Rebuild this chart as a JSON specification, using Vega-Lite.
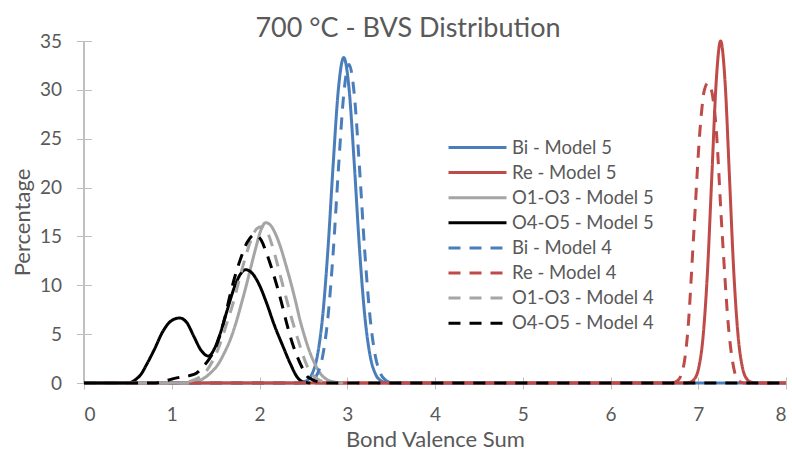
{
  "$schema": "https://vega.github.io/schema/vega-lite/v6.json",
  "width": 702,
  "height": 342,
  "autosize": {"type": "none"},
  "padding": {"left": 84, "top": 41, "right": 6, "bottom": 69},
  "background": "white",
  "title": {"text": "700 °C - BVS Distribution", "fontSize": 27, "fontWeight": "normal", "color": "#595959", "font": "Lato", "anchor": "middle", "dx": -27, "offset": -11},
  "config": {"view": {"stroke": null}, "font": "Lato"},
  "data": {"values": [
    {"s": "Bi - Model 5", "x": 0, "y": 0}, {"s": "Bi - Model 5", "x": 2.40, "y": 0}, {"s": "Bi - Model 5", "x": 2.48, "y": 0.06}, {"s": "Bi - Model 5", "x": 2.54, "y": 0.26}, {"s": "Bi - Model 5", "x": 2.60, "y": 0.95}, {"s": "Bi - Model 5", "x": 2.66, "y": 2.82}, {"s": "Bi - Model 5", "x": 2.72, "y": 6.86}, {"s": "Bi - Model 5", "x": 2.78, "y": 13.69}, {"s": "Bi - Model 5", "x": 2.84, "y": 22.44}, {"s": "Bi - Model 5", "x": 2.90, "y": 30.17}, {"s": "Bi - Model 5", "x": 2.96, "y": 33.3}, {"s": "Bi - Model 5", "x": 3.02, "y": 30.17}, {"s": "Bi - Model 5", "x": 3.08, "y": 22.44}, {"s": "Bi - Model 5", "x": 3.14, "y": 13.69}, {"s": "Bi - Model 5", "x": 3.20, "y": 6.86}, {"s": "Bi - Model 5", "x": 3.26, "y": 2.82}, {"s": "Bi - Model 5", "x": 3.32, "y": 0.95}, {"s": "Bi - Model 5", "x": 3.38, "y": 0.26}, {"s": "Bi - Model 5", "x": 3.44, "y": 0.06}, {"s": "Bi - Model 5", "x": 3.52, "y": 0}, {"s": "Bi - Model 5", "x": 8, "y": 0},

    {"s": "Re - Model 5", "x": 0, "y": 0}, {"s": "Re - Model 5", "x": 6.80, "y": 0}, {"s": "Re - Model 5", "x": 6.855, "y": 0.01}, {"s": "Re - Model 5", "x": 6.905, "y": 0.08}, {"s": "Re - Model 5", "x": 6.955, "y": 0.39}, {"s": "Re - Model 5", "x": 7.005, "y": 1.54}, {"s": "Re - Model 5", "x": 7.055, "y": 4.74}, {"s": "Re - Model 5", "x": 7.105, "y": 11.36}, {"s": "Re - Model 5", "x": 7.155, "y": 21.23}, {"s": "Re - Model 5", "x": 7.205, "y": 30.89}, {"s": "Re - Model 5", "x": 7.255, "y": 35}, {"s": "Re - Model 5", "x": 7.305, "y": 30.89}, {"s": "Re - Model 5", "x": 7.355, "y": 21.23}, {"s": "Re - Model 5", "x": 7.405, "y": 11.36}, {"s": "Re - Model 5", "x": 7.455, "y": 4.74}, {"s": "Re - Model 5", "x": 7.505, "y": 1.54}, {"s": "Re - Model 5", "x": 7.555, "y": 0.39}, {"s": "Re - Model 5", "x": 7.605, "y": 0.08}, {"s": "Re - Model 5", "x": 7.655, "y": 0.01}, {"s": "Re - Model 5", "x": 7.72, "y": 0}, {"s": "Re - Model 5", "x": 8, "y": 0},

    {"s": "O1-O3 - Model 5", "x": 0, "y": 0}, {"s": "O1-O3 - Model 5", "x": 1.15, "y": 0}, {"s": "O1-O3 - Model 5", "x": 1.25, "y": 0.1}, {"s": "O1-O3 - Model 5", "x": 1.35, "y": 0.4}, {"s": "O1-O3 - Model 5", "x": 1.45, "y": 1.1}, {"s": "O1-O3 - Model 5", "x": 1.52, "y": 1.8}, {"s": "O1-O3 - Model 5", "x": 1.60, "y": 3.1}, {"s": "O1-O3 - Model 5", "x": 1.67, "y": 4.5}, {"s": "O1-O3 - Model 5", "x": 1.73, "y": 6.1}, {"s": "O1-O3 - Model 5", "x": 1.79, "y": 8.0}, {"s": "O1-O3 - Model 5", "x": 1.85, "y": 10.0}, {"s": "O1-O3 - Model 5", "x": 1.90, "y": 11.8}, {"s": "O1-O3 - Model 5", "x": 1.96, "y": 13.9}, {"s": "O1-O3 - Model 5", "x": 2.01, "y": 15.5}, {"s": "O1-O3 - Model 5", "x": 2.07, "y": 16.4}, {"s": "O1-O3 - Model 5", "x": 2.12, "y": 16.2}, {"s": "O1-O3 - Model 5", "x": 2.18, "y": 15.3}, {"s": "O1-O3 - Model 5", "x": 2.24, "y": 13.9}, {"s": "O1-O3 - Model 5", "x": 2.30, "y": 12.1}, {"s": "O1-O3 - Model 5", "x": 2.35, "y": 10.5}, {"s": "O1-O3 - Model 5", "x": 2.41, "y": 8.4}, {"s": "O1-O3 - Model 5", "x": 2.46, "y": 6.5}, {"s": "O1-O3 - Model 5", "x": 2.52, "y": 4.6}, {"s": "O1-O3 - Model 5", "x": 2.58, "y": 3.0}, {"s": "O1-O3 - Model 5", "x": 2.64, "y": 1.8}, {"s": "O1-O3 - Model 5", "x": 2.70, "y": 0.9}, {"s": "O1-O3 - Model 5", "x": 2.77, "y": 0.35}, {"s": "O1-O3 - Model 5", "x": 2.85, "y": 0.1}, {"s": "O1-O3 - Model 5", "x": 2.95, "y": 0},

    {"s": "O4-O5 - Model 5", "x": 0, "y": 0}, {"s": "O4-O5 - Model 5", "x": 0.50, "y": 0}, {"s": "O4-O5 - Model 5", "x": 0.58, "y": 0.3}, {"s": "O4-O5 - Model 5", "x": 0.65, "y": 0.9}, {"s": "O4-O5 - Model 5", "x": 0.72, "y": 2.0}, {"s": "O4-O5 - Model 5", "x": 0.80, "y": 3.4}, {"s": "O4-O5 - Model 5", "x": 0.90, "y": 5.3}, {"s": "O4-O5 - Model 5", "x": 1.00, "y": 6.4}, {"s": "O4-O5 - Model 5", "x": 1.09, "y": 6.65}, {"s": "O4-O5 - Model 5", "x": 1.17, "y": 6.2}, {"s": "O4-O5 - Model 5", "x": 1.25, "y": 4.8}, {"s": "O4-O5 - Model 5", "x": 1.33, "y": 3.4}, {"s": "O4-O5 - Model 5", "x": 1.42, "y": 2.75}, {"s": "O4-O5 - Model 5", "x": 1.48, "y": 3.4}, {"s": "O4-O5 - Model 5", "x": 1.55, "y": 5.0}, {"s": "O4-O5 - Model 5", "x": 1.63, "y": 7.4}, {"s": "O4-O5 - Model 5", "x": 1.71, "y": 9.7}, {"s": "O4-O5 - Model 5", "x": 1.78, "y": 11.1}, {"s": "O4-O5 - Model 5", "x": 1.84, "y": 11.6}, {"s": "O4-O5 - Model 5", "x": 1.91, "y": 11.3}, {"s": "O4-O5 - Model 5", "x": 2.00, "y": 10.0}, {"s": "O4-O5 - Model 5", "x": 2.08, "y": 8.2}, {"s": "O4-O5 - Model 5", "x": 2.17, "y": 5.9}, {"s": "O4-O5 - Model 5", "x": 2.27, "y": 3.7}, {"s": "O4-O5 - Model 5", "x": 2.35, "y": 2.0}, {"s": "O4-O5 - Model 5", "x": 2.43, "y": 0.6}, {"s": "O4-O5 - Model 5", "x": 2.50, "y": 0.1}, {"s": "O4-O5 - Model 5", "x": 2.58, "y": 0},

    {"s": "Bi - Model 4", "x": 0, "y": 0}, {"s": "Bi - Model 4", "x": 2.46, "y": 0}, {"s": "Bi - Model 4", "x": 2.54, "y": 0.06}, {"s": "Bi - Model 4", "x": 2.60, "y": 0.26}, {"s": "Bi - Model 4", "x": 2.66, "y": 0.93}, {"s": "Bi - Model 4", "x": 2.72, "y": 2.76}, {"s": "Bi - Model 4", "x": 2.78, "y": 6.72}, {"s": "Bi - Model 4", "x": 2.84, "y": 13.40}, {"s": "Bi - Model 4", "x": 2.90, "y": 21.97}, {"s": "Bi - Model 4", "x": 2.96, "y": 29.54}, {"s": "Bi - Model 4", "x": 3.02, "y": 32.6}, {"s": "Bi - Model 4", "x": 3.08, "y": 29.54}, {"s": "Bi - Model 4", "x": 3.14, "y": 21.97}, {"s": "Bi - Model 4", "x": 3.20, "y": 13.40}, {"s": "Bi - Model 4", "x": 3.26, "y": 6.72}, {"s": "Bi - Model 4", "x": 3.32, "y": 2.76}, {"s": "Bi - Model 4", "x": 3.38, "y": 0.93}, {"s": "Bi - Model 4", "x": 3.44, "y": 0.26}, {"s": "Bi - Model 4", "x": 3.50, "y": 0.06}, {"s": "Bi - Model 4", "x": 3.58, "y": 0}, {"s": "Bi - Model 4", "x": 3.65, "y": 0},

    {"s": "Re - Model 4", "x": 0, "y": 0}, {"s": "Re - Model 4", "x": 6.70, "y": 0}, {"s": "Re - Model 4", "x": 6.76, "y": 0.2}, {"s": "Re - Model 4", "x": 6.82, "y": 1.2}, {"s": "Re - Model 4", "x": 6.88, "y": 5.2}, {"s": "Re - Model 4", "x": 6.95, "y": 15.5}, {"s": "Re - Model 4", "x": 7.02, "y": 25.9}, {"s": "Re - Model 4", "x": 7.07, "y": 30.0}, {"s": "Re - Model 4", "x": 7.11, "y": 30.7}, {"s": "Re - Model 4", "x": 7.15, "y": 30.0}, {"s": "Re - Model 4", "x": 7.20, "y": 26.5}, {"s": "Re - Model 4", "x": 7.27, "y": 15.7}, {"s": "Re - Model 4", "x": 7.35, "y": 5.2}, {"s": "Re - Model 4", "x": 7.41, "y": 1.3}, {"s": "Re - Model 4", "x": 7.46, "y": 0.2}, {"s": "Re - Model 4", "x": 7.52, "y": 0}, {"s": "Re - Model 4", "x": 8, "y": 0},

    {"s": "O1-O3 - Model 4", "x": 0, "y": 0}, {"s": "O1-O3 - Model 4", "x": 1.10, "y": 0}, {"s": "O1-O3 - Model 4", "x": 1.20, "y": 0.15}, {"s": "O1-O3 - Model 4", "x": 1.30, "y": 0.5}, {"s": "O1-O3 - Model 4", "x": 1.40, "y": 1.3}, {"s": "O1-O3 - Model 4", "x": 1.48, "y": 2.5}, {"s": "O1-O3 - Model 4", "x": 1.55, "y": 4.0}, {"s": "O1-O3 - Model 4", "x": 1.62, "y": 5.9}, {"s": "O1-O3 - Model 4", "x": 1.70, "y": 8.2}, {"s": "O1-O3 - Model 4", "x": 1.77, "y": 10.6}, {"s": "O1-O3 - Model 4", "x": 1.84, "y": 12.9}, {"s": "O1-O3 - Model 4", "x": 1.91, "y": 14.8}, {"s": "O1-O3 - Model 4", "x": 1.97, "y": 15.8}, {"s": "O1-O3 - Model 4", "x": 2.02, "y": 16.0}, {"s": "O1-O3 - Model 4", "x": 2.08, "y": 15.6}, {"s": "O1-O3 - Model 4", "x": 2.14, "y": 14.2}, {"s": "O1-O3 - Model 4", "x": 2.20, "y": 12.3}, {"s": "O1-O3 - Model 4", "x": 2.26, "y": 10.2}, {"s": "O1-O3 - Model 4", "x": 2.31, "y": 8.5}, {"s": "O1-O3 - Model 4", "x": 2.37, "y": 6.5}, {"s": "O1-O3 - Model 4", "x": 2.43, "y": 4.7}, {"s": "O1-O3 - Model 4", "x": 2.49, "y": 3.0}, {"s": "O1-O3 - Model 4", "x": 2.54, "y": 1.8}, {"s": "O1-O3 - Model 4", "x": 2.60, "y": 0.9}, {"s": "O1-O3 - Model 4", "x": 2.66, "y": 0.4}, {"s": "O1-O3 - Model 4", "x": 2.75, "y": 0.1}, {"s": "O1-O3 - Model 4", "x": 2.85, "y": 0}, {"s": "O1-O3 - Model 4", "x": 3.0, "y": 0},

    {"s": "O4-O5 - Model 4", "x": 0, "y": 0}, {"s": "O4-O5 - Model 4", "x": 0.80, "y": 0}, {"s": "O4-O5 - Model 4", "x": 0.90, "y": 0.15}, {"s": "O4-O5 - Model 4", "x": 1.00, "y": 0.4}, {"s": "O4-O5 - Model 4", "x": 1.10, "y": 0.6}, {"s": "O4-O5 - Model 4", "x": 1.20, "y": 0.75}, {"s": "O4-O5 - Model 4", "x": 1.28, "y": 1.0}, {"s": "O4-O5 - Model 4", "x": 1.36, "y": 1.7}, {"s": "O4-O5 - Model 4", "x": 1.43, "y": 2.5}, {"s": "O4-O5 - Model 4", "x": 1.49, "y": 3.4}, {"s": "O4-O5 - Model 4", "x": 1.55, "y": 4.9}, {"s": "O4-O5 - Model 4", "x": 1.60, "y": 6.5}, {"s": "O4-O5 - Model 4", "x": 1.67, "y": 9.2}, {"s": "O4-O5 - Model 4", "x": 1.72, "y": 10.9}, {"s": "O4-O5 - Model 4", "x": 1.78, "y": 12.6}, {"s": "O4-O5 - Model 4", "x": 1.86, "y": 14.4}, {"s": "O4-O5 - Model 4", "x": 1.95, "y": 15.2}, {"s": "O4-O5 - Model 4", "x": 2.02, "y": 14.6}, {"s": "O4-O5 - Model 4", "x": 2.08, "y": 13.3}, {"s": "O4-O5 - Model 4", "x": 2.14, "y": 11.7}, {"s": "O4-O5 - Model 4", "x": 2.20, "y": 9.9}, {"s": "O4-O5 - Model 4", "x": 2.26, "y": 7.9}, {"s": "O4-O5 - Model 4", "x": 2.31, "y": 6.1}, {"s": "O4-O5 - Model 4", "x": 2.37, "y": 4.2}, {"s": "O4-O5 - Model 4", "x": 2.43, "y": 2.7}, {"s": "O4-O5 - Model 4", "x": 2.49, "y": 1.5}, {"s": "O4-O5 - Model 4", "x": 2.54, "y": 0.7}, {"s": "O4-O5 - Model 4", "x": 2.60, "y": 0.35}, {"s": "O4-O5 - Model 4", "x": 2.68, "y": 0.1}, {"s": "O4-O5 - Model 4", "x": 2.80, "y": 0}, {"s": "O4-O5 - Model 4", "x": 8, "y": 0}
  ]},
  "layer": [
    {
      "mark": {"type": "rule", "color": "#BFBFBF", "strokeWidth": 1},
      "encoding": {"x": {"datum": 0, "type": "quantitative", "scale": {"domain": [0, 8], "nice": false}}}
    },
    {
      "mark": {"type": "line", "strokeWidth": 3, "interpolate": "monotone", "strokeCap": "butt", "strokeJoin": "round"},
      "encoding": {
        "x": {"field": "x", "type": "quantitative", "scale": {"domain": [0, 8], "nice": false},
          "axis": {"values": [0,1,2,3,4,5,6,7,8], "format": "d", "domain": false, "grid": false, "tickSize": 12, "offset": -6, "tickColor": "#BFBFBF",
            "labelFontSize": 19, "labelColor": "#595959", "labelPadding": 16, "labelFont": "Lato",
            "title": "Bond Valence Sum", "titleFontSize": 22, "titleFontWeight": "normal", "titleColor": "#595959", "titleFont": "Lato", "titlePadding": 5}},
        "y": {"field": "y", "type": "quantitative", "scale": {"domain": [0, 35], "nice": false},
          "axis": {"values": [0,5,10,15,20,25,30,35], "domain": false, "grid": false, "tickSize": 15, "offset": -7.5, "tickColor": "#BFBFBF",
            "labelFontSize": 19, "labelColor": "#595959", "labelPadding": 15, "labelFont": "Lato",
            "title": "Percentage", "titleFontSize": 22, "titleFontWeight": "normal", "titleColor": "#595959", "titleFont": "Lato", "titlePadding": 5, "titleY": 181}},
        "color": {"field": "s", "type": "nominal", "title": null,
          "scale": {"domain": ["Bi - Model 5", "Re - Model 5", "O1-O3 - Model 5", "O4-O5 - Model 5", "Bi - Model 4", "Re - Model 4", "O1-O3 - Model 4", "O4-O5 - Model 4"],
            "range": ["#4A7EBB", "#BE4B48", "#A5A5A5", "#000000", "#4A7EBB", "#BE4B48", "#A5A5A5", "#000000"]},
          "legend": {"orient": "none", "legendX": 382, "legendY": 95, "padding": 0, "symbolType": "M-2.9,0H2.9", "symbolSize": 400, "symbolStrokeWidth": 3,
            "labelFontSize": 18.5, "labelColor": "#595959", "labelFont": "Lato", "labelOffset": 23, "rowPadding": 4.1, "labelLimit": 300}},
        "strokeDash": {"field": "s", "type": "nominal", "title": null,
          "scale": {"domain": ["Bi - Model 5", "Re - Model 5", "O1-O3 - Model 5", "O4-O5 - Model 5", "Bi - Model 4", "Re - Model 4", "O1-O3 - Model 4", "O4-O5 - Model 4"],
            "range": [[1, 0], [1, 0], [1, 0], [1, 0], [12, 9], [12, 9], [12, 9], [12, 9]]},
          "legend": {"orient": "none", "legendX": 382, "legendY": 95, "padding": 0, "symbolType": "M-2.9,0H2.9", "symbolSize": 400, "symbolStrokeWidth": 3,
            "labelFontSize": 18.5, "labelColor": "#595959", "labelFont": "Lato", "labelOffset": 23, "rowPadding": 4.1, "labelLimit": 300}}
      }
    }
  ]
}
